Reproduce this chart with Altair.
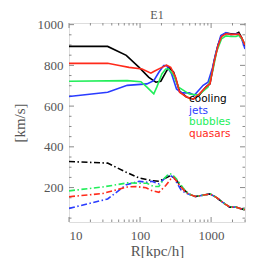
import altair as alt
import pandas as pd

# ---------------- data ----------------
series_names = ["cooling", "jets", "bubbles", "quasars"]
series_colors = ["#000000", "#2a3cff", "#22ee5a", "#ff2a1a"]
chart_title = "E1"

# solid lines
cooling_solid_x = [10, 35, 64, 97, 133, 167, 196, 230, 253, 297, 360, 450, 560, 680, 850, 965, 1100, 1250, 1400, 1620, 1900, 2250, 2450, 2700, 3000]
cooling_solid_y = [893, 893, 849, 790, 741, 717, 722, 766, 790, 766, 673, 645, 634, 654, 695, 710, 820, 900, 945, 958, 955, 955, 962, 935, 895]

jets_solid_x = [10, 35, 66, 125, 156, 184, 215, 236, 278, 326, 383, 494, 580, 773, 905, 1050, 1170, 1370, 1620, 1900, 2380, 2700, 3000]
jets_solid_y = [647, 668, 702, 709, 725, 766, 799, 799, 758, 684, 665, 665, 653, 702, 717, 790, 863, 946, 961, 951, 956, 930, 880]

bubbles_solid_x = [10, 66, 103, 125, 156, 172, 203, 230, 253, 297, 348, 494, 660, 905, 1050, 1200, 1400, 1620, 1900, 2250, 2450, 2700, 3000]
bubbles_solid_y = [722, 725, 720, 693, 660, 693, 758, 782, 782, 751, 693, 659, 654, 693, 770, 870, 930, 945, 942, 942, 948, 930, 905]

quasars_solid_x = [10, 35, 51, 70, 107, 142, 156, 203, 236, 270, 317, 360, 450, 560, 680, 850, 965, 1100, 1250, 1400, 1620, 1900, 2250, 2450, 2700, 3000]
quasars_solid_y = [810, 810, 799, 790, 782, 762, 770, 790, 801, 790, 741, 668, 645, 634, 659, 695, 710, 815, 895, 942, 955, 952, 952, 955, 935, 900]

# dash-dot lines
cooling_dd_x = [10, 35, 64, 97, 147, 184, 215, 270, 317, 383, 480, 600, 725, 965, 1170, 1560, 1830, 2240, 2500, 3000]
cooling_dd_y = [328, 320, 275, 247, 234, 231, 242, 259, 242, 201, 169, 156, 161, 169, 153, 120, 104, 104, 98, 91]

jets_dd_x = [10, 35, 64, 97, 125, 147, 184, 230, 253, 297, 383, 450, 600, 725, 965, 1170, 1560, 1830, 2240, 2500, 3000]
jets_dd_y = [98, 144, 214, 231, 226, 231, 218, 250, 263, 250, 185, 172, 156, 161, 169, 153, 120, 104, 104, 98, 91]

bubbles_dd_x = [10, 30, 66, 125, 156, 184, 215, 253, 278, 326, 400, 480, 600, 725, 965, 1170, 1560, 1830, 2240, 2500, 3000]
bubbles_dd_y = [184, 203, 223, 221, 205, 205, 242, 267, 267, 242, 200, 169, 156, 161, 169, 153, 120, 104, 104, 98, 91]

quasars_dd_x = [10, 30, 66, 88, 121, 147, 184, 230, 270, 297, 348, 420, 480, 600, 725, 965, 1170, 1560, 1830, 2240, 2500, 3000]
quasars_dd_y = [155, 171, 203, 205, 199, 185, 177, 210, 242, 250, 218, 185, 169, 156, 161, 169, 153, 120, 104, 104, 98, 91]

x_major_ticks = [10, 100, 1000]
x_minor_ticks = [20, 30, 40, 50, 60, 70, 80, 90, 200, 300, 400, 500, 600, 700, 800, 900, 2000, 3000]
y_major_ticks = [200, 400, 600, 800, 1000]
y_minor_ticks = [50, 100, 150, 250, 300, 350, 450, 500, 550, 650, 700, 750, 850, 900, 950]

# ---------------- chart ----------------
W, H = 176, 199
XDOM = [10, 3000]
YDOM = [31, 1008]
FONT = "Liberation Serif"
GRAY = "#555555"
TICKC = "#8a8a8a"

xscale = alt.Scale(type="log", domain=XDOM, nice=False)
yscale = alt.Scale(domain=YDOM, nice=False, zero=False)

solid = {
    "cooling": (cooling_solid_x, cooling_solid_y),
    "jets": (jets_solid_x, jets_solid_y),
    "bubbles": (bubbles_solid_x, bubbles_solid_y),
    "quasars": (quasars_solid_x, quasars_solid_y),
}
dashdot = {
    "cooling": (cooling_dd_x, cooling_dd_y),
    "jets": (jets_dd_x, jets_dd_y),
    "bubbles": (bubbles_dd_x, bubbles_dd_y),
    "quasars": (quasars_dd_x, quasars_dd_y),
}

layers = []

base_df = pd.DataFrame({"x": [10], "y": [500]})
base = alt.Chart(base_df).mark_point(opacity=0).encode(
    x=alt.X("x:Q", scale=xscale,
            axis=alt.Axis(values=x_major_ticks, format="d", ticks=False, grid=False, domain=False,
                          labelFont=FONT, labelFontSize=13, labelColor=GRAY, labelPadding=7,
                          title="R[kpc/h]", titleFont=FONT, titleFontSize=15,
                          titleFontWeight="normal", titleColor=GRAY, titlePadding=1)),
    y=alt.Y("y:Q", scale=yscale,
            axis=alt.Axis(values=y_major_ticks, format="d", ticks=False, grid=False, domain=False,
                          labelFont=FONT, labelFontSize=13, labelColor=GRAY, labelPadding=6,
                          title="[km/s]", titleFont=FONT, titleFontSize=15,
                          titleFontWeight="normal", titleColor=GRAY, titlePadding=10)),
)
layers.append(base)

def xticks(vals, length):
    df = pd.DataFrame({"x": vals})
    b = alt.Chart(df).mark_rule(color=TICKC, strokeWidth=1)
    bottom = b.encode(x=alt.X("x:Q", scale=xscale), y=alt.value(H), y2=alt.value(H - length))
    top = b.encode(x=alt.X("x:Q", scale=xscale), y=alt.value(0), y2=alt.value(length))
    return [bottom, top]

def yticks(vals, length):
    df = pd.DataFrame({"y": vals})
    b = alt.Chart(df).mark_rule(color=TICKC, strokeWidth=1)
    left = b.encode(y=alt.Y("y:Q", scale=yscale), x=alt.value(0), x2=alt.value(length))
    right = b.encode(y=alt.Y("y:Q", scale=yscale), x=alt.value(W), x2=alt.value(W - length))
    return [left, right]

layers += xticks(x_major_ticks, 5) + xticks(x_minor_ticks, 2.5)
layers += yticks(y_major_ticks, 5) + yticks(y_minor_ticks, 2.5)

for name, col in zip(series_names, series_colors):
    xs, ys = dashdot[name]
    df = pd.DataFrame({"x": xs, "y": ys})
    layers.append(alt.Chart(df).mark_line(color=col, strokeWidth=1.6, strokeDash=[6, 2.5, 1.5, 2.5], clip=True)
                  .encode(x=alt.X("x:Q", scale=xscale), y=alt.Y("y:Q", scale=yscale)))

for name, col in zip(series_names, series_colors):
    xs, ys = solid[name]
    df = pd.DataFrame({"x": xs, "y": ys})
    layers.append(alt.Chart(df).mark_line(color=col, strokeWidth=1.6, clip=True)
                  .encode(x=alt.X("x:Q", scale=xscale), y=alt.Y("y:Q", scale=yscale)))

legend_y = [79, 90.5, 102, 113.5]
for name, col, ly in zip(series_names, series_colors, legend_y):
    layers.append(alt.Chart(alt.Data(values=[{"label": name}])).mark_text(
        align="left", baseline="alphabetic", font="DejaVu Sans", fontSize=10.5, color=col
    ).encode(x=alt.value(120), y=alt.value(ly), text="label:N"))

# title drawn as text above the plot area
layers.append(alt.Chart(alt.Data(values=[{"label": chart_title}])).mark_text(
    align="center", baseline="alphabetic", font=FONT, fontSize=12, color=GRAY
).encode(x=alt.value(W / 2), y=alt.value(-4), text="label:N"))

chart = alt.layer(*layers).properties(
    width=W, height=H,
    autosize=alt.AutoSizeParams(type="none"),
    padding={"left": 61, "top": 15, "right": 13, "bottom": 36},
).configure_view(stroke="#9a9a9a", strokeWidth=1.5).configure(background="white")

chart.save("out.html", embed_options={"renderer": "svg", "actions": False})
